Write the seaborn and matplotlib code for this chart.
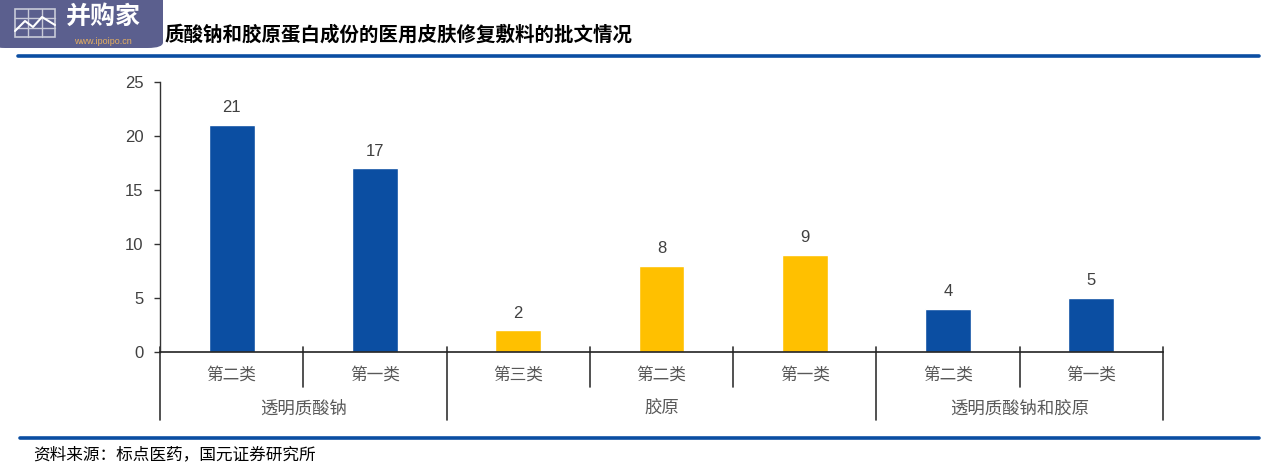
import matplotlib
matplotlib.use("Agg")
import matplotlib.pyplot as plt
import matplotlib.transforms as mtransforms
from matplotlib.patches import FancyBboxPatch, Rectangle
from matplotlib.lines import Line2D
import seaborn as sns
import pandas as pd

# ---- data ----
groups = ["透明质酸钠", "胶原", "透明质酸钠和胶原"]
group_sizes = [2, 3, 2]
sub_labels = ["第二类", "第一类", "第三类", "第二类", "第一类", "第二类", "第一类"]
values = [21, 17, 2, 8, 9, 4, 5]
bar_colors = ["#0B4EA2", "#0B4EA2", "#FFC000", "#FFC000", "#FFC000", "#0B4EA2", "#0B4EA2"]
yticks = [0, 5, 10, 15, 20, 25]
title_text = "质酸钠和胶原蛋白成份的医用皮肤修复敷料的批文情况"
source_text = "资料来源：标点医药，国元证券研究所"

keys = []
for g, n in zip(groups, group_sizes):
    for k in range(n):
        keys.append(f"{g}|{sub_labels[len(keys)]}|{len(keys)}")
df = pd.DataFrame({"key": keys, "value": values})

sns.set_theme(style="white")
plt.rcParams["font.family"] = ["Liberation Sans", "Noto Sans CJK SC", "DejaVu Sans"]

fig = plt.figure(figsize=(12.68, 4.71), dpi=100)
W, H = 1268, 471
ax = fig.add_axes([160 / W, 1 - 352 / H, (1163 - 160) / W, (352 - 82) / H])

sns.barplot(data=df, x="key", y="value", hue="key", palette=bar_colors,
            legend=False, width=0.32, ax=ax, saturation=1)

for c in ax.containers:
    ax.bar_label(c, padding=7, fontsize=12, color="#404040")

ax.set_xlim(-0.5, len(values) - 0.5)
ax.set_ylim(0, 25)
ax.set_yticks(yticks)
ax.set_yticklabels([str(t) for t in yticks], fontsize=12, color="#404040")
ax.tick_params(axis="y", direction="out", length=4, width=1, color="#333333", pad=8, left=True)
ax.set_xticks([])
ax.set_xlabel("")
ax.set_ylabel("")
for s in ["top", "right"]:
    ax.spines[s].set_visible(False)
ax.spines["left"].set_color("#333333")
ax.spines["left"].set_linewidth(1)
ax.spines["bottom"].set_color("#222222")
ax.spines["bottom"].set_linewidth(1.2)

trans = mtransforms.blended_transform_factory(ax.transData, ax.transAxes)
# separators
bounds_long = [-0.5]
pos = -0.5
for n in group_sizes:
    pos += n
    bounds_long.append(pos)
for b in [i - 0.5 for i in range(len(values) + 1)]:
    bottom = -0.252 if b in bounds_long else -0.13
    ax.add_line(Line2D([b, b], [0.018, bottom], transform=trans, color="#333333",
                       lw=1.2, clip_on=False))

# sub labels
for i, lab in enumerate(sub_labels):
    ax.text(i, -0.085, lab, transform=trans, ha="center", va="center",
            fontsize=12, color="#595959", family=["Noto Sans CJK SC"])
# group labels
start = 0
for g, n in zip(groups, group_sizes):
    center = start + (n - 1) / 2
    ax.text(center, -0.211, g, transform=trans, ha="center", va="center",
            fontsize=12.5, color="#595959", family=["Noto Sans CJK SC"])
    start += n

# header and footer lines
fig.add_artist(Line2D([18 / W, 1259 / W], [1 - 56 / H, 1 - 56 / H], color="#0B4EA2", lw=2.6))
fig.add_artist(Line2D([20 / W, 1259 / W], [1 - 438 / H, 1 - 438 / H], color="#0B4EA2", lw=2.6))

# title (its first characters are hidden under the watermark logo in the reference)
fig.text(165 / W, 1 - 35 / H, title_text, ha="left", va="center", fontsize=14,
         fontweight="bold", color="#000000", family=["Noto Sans CJK SC"])

# source
fig.text(33 / W, 1 - 455 / H, source_text, ha="left", va="center", fontsize=12,
         color="#000000", family=["Noto Sans CJK SC"])

# watermark logo
logo = FancyBboxPatch((-10 / W, 1 - 48 / H), 173 / W, 60 / H,
                      boxstyle="round,pad=0,rounding_size=0.012",
                      transform=fig.transFigure, facecolor="#5B5F8E", edgecolor="none",
                      zorder=10)
fig.add_artist(logo)
gx0, gy0, gw, gh = 15, 9, 40, 28
fig.add_artist(Rectangle((gx0 / W, 1 - (gy0 + gh) / H), gw / W, gh / H, transform=fig.transFigure,
                         facecolor="none", edgecolor="#C8CAD8", lw=1.2, zorder=11))
for k in range(1, 3):
    xx = (gx0 + gw * k / 3) / W
    fig.add_artist(Line2D([xx, xx], [1 - (gy0 + gh) / H, 1 - gy0 / H], color="#C8CAD8", lw=1, zorder=11))
    yy = 1 - (gy0 + gh * k / 3) / H
    fig.add_artist(Line2D([gx0 / W, (gx0 + gw) / W], [yy, yy], color="#C8CAD8", lw=1, zorder=11))
zz_x = [15, 25, 33, 42, 55]
zz_y = [31, 21, 27, 17, 25]
fig.add_artist(Line2D([v / W for v in zz_x], [1 - v / H for v in zz_y], color="white", lw=1.5, zorder=12))
fig.text(103 / W, 1 - 17 / H, "并购家", ha="center", va="center", fontsize=18, fontweight="bold",
         color="white", family=["Noto Sans CJK SC"], zorder=12)
fig.text(103 / W, 1 - 41 / H, "www.ipoipo.cn", ha="center", va="center", fontsize=6.5,
         color="#E8B060", zorder=12)

fig.savefig("out.png", dpi=100)
